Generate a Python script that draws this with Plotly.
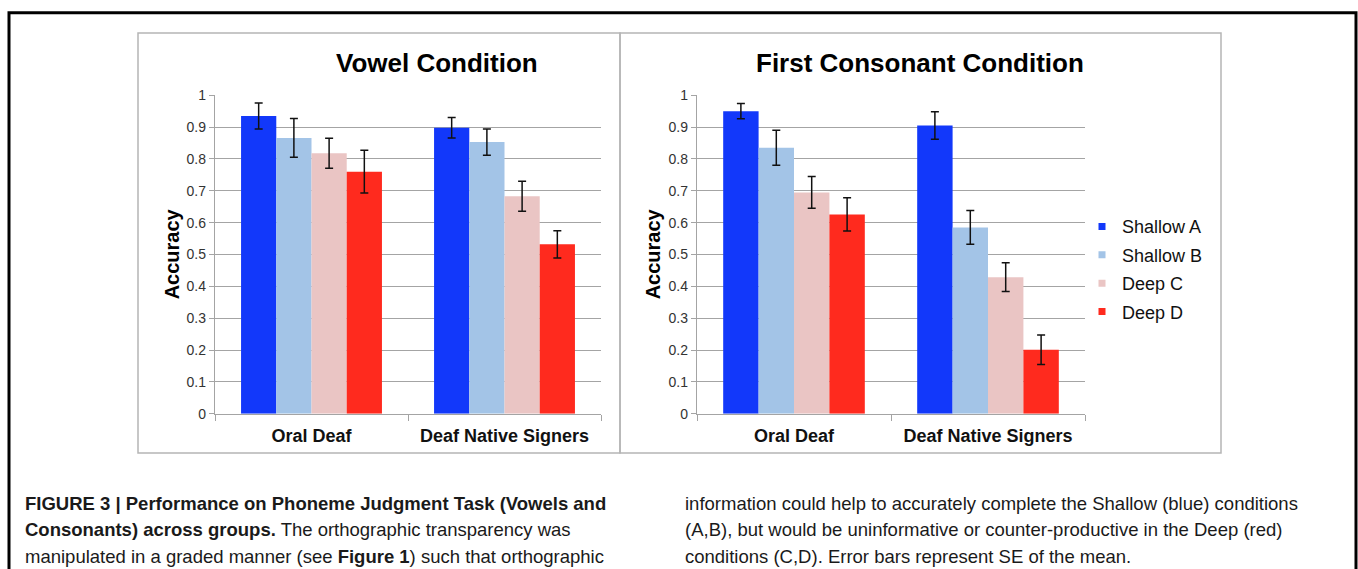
import plotly.graph_objects as go

# ---- data ----
groups = ["Oral Deaf", "Deaf Native Signers"]
conditions = ["Shallow A", "Shallow B", "Deep C", "Deep D"]
colors = ["#1238FA", "#A3C4E7", "#EAC5C4", "#FF2A1E"]

vowel_acc = {
    "Shallow A": [0.935, 0.898],
    "Shallow B": [0.866, 0.853],
    "Deep C": [0.818, 0.683],
    "Deep D": [0.760, 0.532],
}
vowel_se = {
    "Shallow A": [0.041, 0.032],
    "Shallow B": [0.061, 0.041],
    "Deep C": [0.047, 0.047],
    "Deep D": [0.067, 0.043],
}
consonant_acc = {
    "Shallow A": [0.950, 0.905],
    "Shallow B": [0.835, 0.585],
    "Deep C": [0.695, 0.429],
    "Deep D": [0.626, 0.201],
}
consonant_se = {
    "Shallow A": [0.024, 0.043],
    "Shallow B": [0.055, 0.053],
    "Deep C": [0.050, 0.045],
    "Deep D": [0.052, 0.046],
}

tick_vals = [0, 0.1, 0.2, 0.3, 0.4, 0.5, 0.6, 0.7, 0.8, 0.9, 1]
tick_text = ["0", "0.1", "0.2", "0.3", "0.4", "0.5", "0.6", "0.7", "0.8", "0.9", "1"]

panel_titles = ["Vowel Condition", "First Consonant Condition"]
y_title = "Accuracy"

caption_left = [
    "<b>FIGURE 3 | Performance on Phoneme Judgment Task (Vowels and</b>",
    "<b>Consonants) across groups.</b> The orthographic transparency was",
    "manipulated in a graded manner (see <b>Figure 1</b>) such that orthographic",
]
caption_right = [
    "information could help to accurately complete the Shallow (blue) conditions",
    "(A,B), but would be uninformative or counter-productive in the Deep (red)",
    "conditions (C,D). Error bars represent SE of the mean.",
]

# ---- page geometry (pixels) ----
W, H = 1358, 569
FONT = "Liberation Sans, Arial, Helvetica, sans-serif"


def px(x):
    return x / W


def py(y):
    return 1 - y / H


GRID = "#a4a4a4"
PLOT_TOP, PLOT_BOTTOM = 89.8, 417.5

fig = go.Figure()

for panel, (acc, se) in enumerate([(vowel_acc, vowel_se), (consonant_acc, consonant_se)]):
    xa = "x" if panel == 0 else "x2"
    ya = "y" if panel == 0 else "y2"
    for cond, col in zip(conditions, colors):
        fig.add_trace(go.Bar(
            x=groups, y=acc[cond], name=cond,
            marker=dict(color=col, line=dict(width=0)),
            error_y=dict(type="data", array=se[cond], visible=True,
                         color="#111111", thickness=1.5, width=4),
            xaxis=xa, yaxis=ya, showlegend=False,
            offsetgroup=cond,
        ))

# legend swatches
for cond, col in zip(conditions, colors):
    fig.add_trace(go.Scatter(
        x=[None], y=[None], mode="markers", name=cond,
        marker=dict(symbol="square", size=7, color=col),
        legendgroup=cond, showlegend=True,
    ))

y_common = dict(
    range=[0, 1], tickvals=tick_vals, ticktext=tick_text,
    showgrid=True, gridcolor=GRID, gridwidth=1.3,
    showline=True, linecolor=GRID, linewidth=1.3,
    ticks="outside", ticklen=5, tickcolor=GRID, tickwidth=1.3,
    tickfont=dict(family=FONT, size=14, color="#333333"),
    zeroline=False, domain=[py(PLOT_BOTTOM), py(PLOT_TOP)], fixedrange=True,
)
x_common = dict(
    type="category", showgrid=False,
    showline=True, linecolor=GRID, linewidth=1.3,
    ticks="outside", tickson="boundaries", ticklen=6, tickcolor=GRID, tickwidth=1.3,
    tickfont=dict(family=FONT, size=18, color="#111111", weight="bold"),
    ticklabelstandoff=5,
    range=[-0.5, 1.5],
)

fig.update_layout(
    width=W, height=H,
    margin=dict(l=0, r=0, t=0, b=0),
    paper_bgcolor="white", plot_bgcolor="white",
    barmode="group", bargap=0.27, bargroupgap=0,
    font=dict(family=FONT, color="#111111"),
    xaxis=dict(domain=[px(215), px(601)], anchor="y", **x_common),
    yaxis=dict(anchor="x", **y_common),
    xaxis2=dict(domain=[px(697), px(1085)], anchor="y2", **x_common),
    yaxis2=dict(anchor="x2", **y_common),
    showlegend=True,
    legend=dict(
        x=px(1082), y=py(206), xanchor="left", yanchor="top",
        font=dict(family=FONT, size=18, color="#111111"),
        tracegroupgap=2, bgcolor="rgba(0,0,0,0)",
    ),
)

# frames
fig.add_shape(type="rect", xref="paper", yref="paper",
              x0=px(9), x1=px(1356), y0=py(640), y1=py(4.8),
              line=dict(color="black", width=3), fillcolor="rgba(0,0,0,0)")
for x0, x1 in [(138, 620), (620, 1221)]:
    fig.add_shape(type="rect", xref="paper", yref="paper",
                  x0=px(x0), x1=px(x1), y0=py(457.8), y1=py(25.7),
                  line=dict(color="#b5b5b5", width=1.5), fillcolor="rgba(0,0,0,0)")

# panel titles and axis titles
for title, cx, ax in zip(panel_titles, [437, 920], [172, 653]):
    fig.add_annotation(text=f"<b>{title}</b>", xref="paper", yref="paper",
                       x=px(cx), y=py(57), xanchor="center", yanchor="middle",
                       showarrow=False, font=dict(family=FONT, size=26, color="black"))
    fig.add_annotation(text=f"<b>{y_title}</b>", xref="paper", yref="paper",
                       x=px(ax), y=py(253.5), xanchor="center", yanchor="middle",
                       textangle=-90, showarrow=False,
                       font=dict(family=FONT, size=20, color="black"))

# caption, one annotation per line
for lines, x0 in [(caption_left, 23), (caption_right, 683)]:
    for i, line in enumerate(lines):
        fig.add_annotation(text=line, xref="paper", yref="paper",
                           x=px(x0), y=py(509.6 + 27.5 * i), xanchor="left", yanchor="middle",
                           align="left", showarrow=False,
                           font=dict(family=FONT, size=18.5, color="#1a1a1a"))

fig.write_html("out.html")
